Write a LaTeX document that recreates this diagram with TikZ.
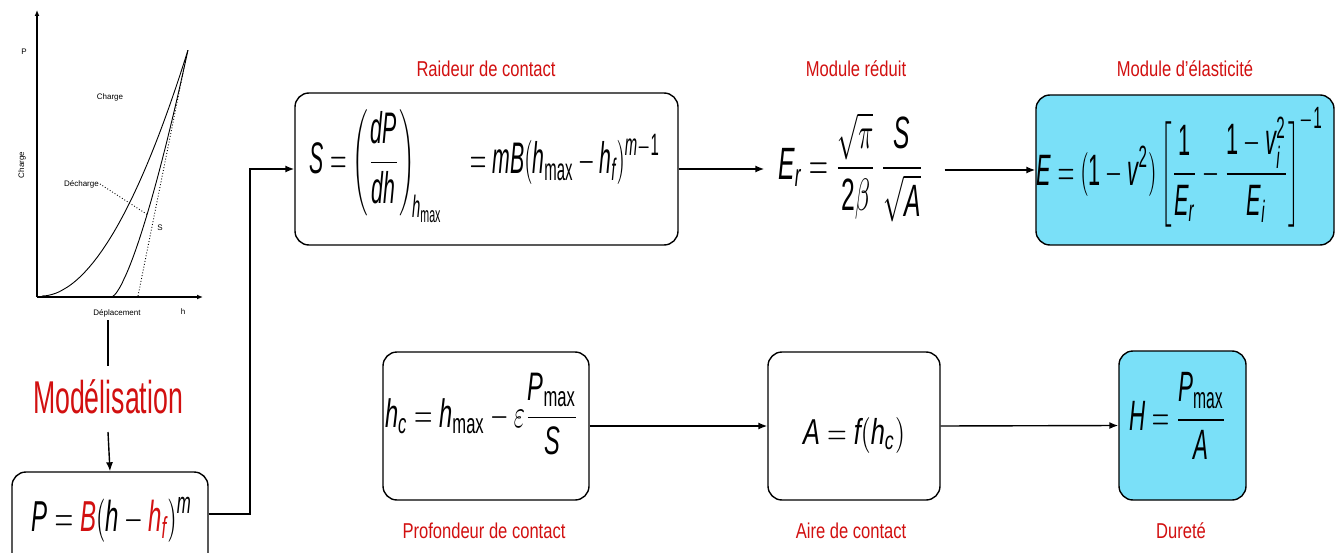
\documentclass[tikz,border=0pt]{standalone}
\usepackage{amsmath}
\usepackage{graphicx}
\usepackage{fontspec}
\setmainfont{Liberation Sans}
\usetikzlibrary{arrows.meta}
\definecolor{lblred}{RGB}{210,16,16}
\definecolor{boxcyan}{RGB}{122,224,248}
\newcommand\lbl[1]{\scalebox{0.77}[1]{\fontsize{21.5}{24}\selectfont #1}}
\newcommand\fml[3]{\resizebox*{#1}{#2}{$\displaystyle #3$}}
\newcommand\mx{\mathrm{max}}
\begin{document}
\begin{tikzpicture}[x=1pt,y=-1pt,
  flowbox/.style={draw=black, line width=1.4pt, rounded corners=14pt, inner sep=0pt},
  fbox/.style={inner sep=0pt},
  lbltxt/.style={text=lblred, inner sep=0pt, anchor=base},
  arr/.style={line width=1.4pt, -{Latex[length=9pt,width=7pt]}},
  conn/.style={line width=1.4pt},
  axis/.style={line width=1.2pt, -{Latex[length=6pt,width=5pt]}},
  curve/.style={line width=0.9pt},
  tinytxt/.style={font=\fontsize{8}{9}\selectfont, inner sep=0pt}]
\useasboundingbox (0,0) rectangle (1340,553);
\fill[white] (0,0) rectangle (1340,553);

% ---- chart ----
\draw[axis] (37,297) -- (37,10);
\draw[axis] (37,297) -- (203,297);
\draw[curve] (42,296) -- plot[domain=0.02:1,samples=40,smooth] ({42+146*\x},{296-246*\x^1.9});
\draw[curve] (113,296) -- plot[domain=0.02:1,samples=40,smooth] ({113+75*\x},{296-246*\x^1.4});
\draw[curve, dotted] (138,296) -- (186,58);
\draw[curve, dotted] (100,184) -- (148,215);
\node[tinytxt] (tcharge) at (110,97) {Charge};
\node[tinytxt, rotate=90] (ylab) at (22,165) {Charge};
\node[tinytxt] (plab) at (24,52) {P};
\node[tinytxt] (depl) at (117,313) {Déplacement};
\node[tinytxt] (hlab) at (183,312) {h};
\node[tinytxt] (slab) at (160,228) {S};
\node[tinytxt, anchor=east] (dech) at (99,184) {Décharge};

% ---- modelisation ----
\coordinate (c1) at (108,320);
\coordinate (c2) at (108,366);
\coordinate (c3) at (108,432);
\draw[conn] (c1) -- (c2);
\node[text=lblred, inner sep=0pt, anchor=base] (model) at (108,413)
  {\scalebox{0.58}[1]{\fontsize{46}{50}\selectfont Modélisation}};
\begin{scope}
\clip (0,0) rectangle (1340,553);
\node[flowbox, minimum width=196pt, minimum height=140pt] (pbox) at (110,542) {};
\end{scope}
\draw[arr] (c3) -- (pbox.north);
\node[fbox] (pform) at (112,520) {\fml{160pt}{45pt}{\mathit{P} = \textcolor{lblred}{\mathit{B}}(\mathit{h} - \textcolor{lblred}{\mathit{h}_{\mathit{f}}})^{\mathit{m}}}};

% ---- top row ----
\node[flowbox, minimum width=383pt, minimum height=152pt] (sbox) at (486.5,169) {};
\node[fbox] (sform) at (485,166) {\fml{350pt}{113pt}{\mathit{S} = \left(\frac{\mathit{dP}}{\mathit{dh}}\right)_{\!\mathit{h}_{\mx}} \quad = \mathit{mB}(\mathit{h}_{\mx} - \mathit{h}_{\mathit{f}})^{\mathit{m}-\mathrm{1}}}};
\node[fbox] (er) at (851,167) {\fml{145pt}{109pt}{\mathit{E}_{\mathit{r}} = \frac{\sqrt{\pi}}{\mathrm{2}\beta}\,\frac{\mathit{S}}{\sqrt{\mathit{A}}}}};
\node[flowbox, fill=boxcyan, minimum width=298pt, minimum height=150pt] (ebox) at (1185,170) {};
\node[fbox] (eform) at (1180,167) {\fml{286pt}{120pt}{\mathit{E} = (\mathrm{1}-\mathit{v}^{\mathrm{2}})\left[\frac{\mathrm{1}}{\mathit{E}_{\mathit{r}}} - \frac{\mathrm{1}-\mathit{v}_{\mathit{i}}^{\mathrm{2}}}{\mathit{E}_{\mathit{i}}}\right]^{-\mathrm{1}}}};

\coordinate (k1) at (250,514);
\draw[arr] (pbox.east |- k1) -- (k1) |- (sbox.west);
\draw[arr] (sbox.east) -- ([xshift=-14pt]sbox.east -| er.west);
\draw[arr] ([xshift=21pt]er.east |- ebox.west) -- (ebox.west);

% ---- bottom row ----
\node[flowbox, minimum width=206pt, minimum height=148pt] (hcbox) at (486,426) {};
\node[fbox] (hcform) at (482,414) {\fml{194pt}{82pt}{\mathit{h}_{\mathit{c}} = \mathit{h}_{\mx} - \varepsilon\frac{\mathit{P}_{\mx}}{\mathit{S}}}};
\node[flowbox, minimum width=172pt, minimum height=148pt] (abox) at (854,426) {};
\node[fbox] (aform) at (854,435) {\fml{102pt}{36pt}{\mathit{A} = \mathit{f}(\mathit{h}_{\mathit{c}})}};
\node[flowbox, fill=boxcyan, minimum width=127pt, minimum height=149pt] (hbox) at (1182.5,425.5) {};
\node[fbox] (hform) at (1178,416) {\fml{97pt}{87pt}{\mathit{H} = \frac{\mathit{P}_{\mx}}{\mathit{A}}}};
\draw[arr] (hcbox.east) -- (abox.west);
\draw[arr] (abox.east) -- (hbox.west);

% ---- labels ----
\node[lbltxt] (l1) at (486,77) {\lbl{Raideur de contact}};
\node[lbltxt] (l2) at (856,77) {\lbl{Module réduit}};
\node[lbltxt] (l3) at (1185,77) {\lbl{Module d'élasticité}};
\node[lbltxt] (l4) at (484,538) {\lbl{Profondeur de contact}};
\node[lbltxt] (l5) at (851,538) {\lbl{Aire de contact}};
\node[lbltxt] (l6) at (1181,538) {\lbl{Dureté}};
\end{tikzpicture}
\end{document}
